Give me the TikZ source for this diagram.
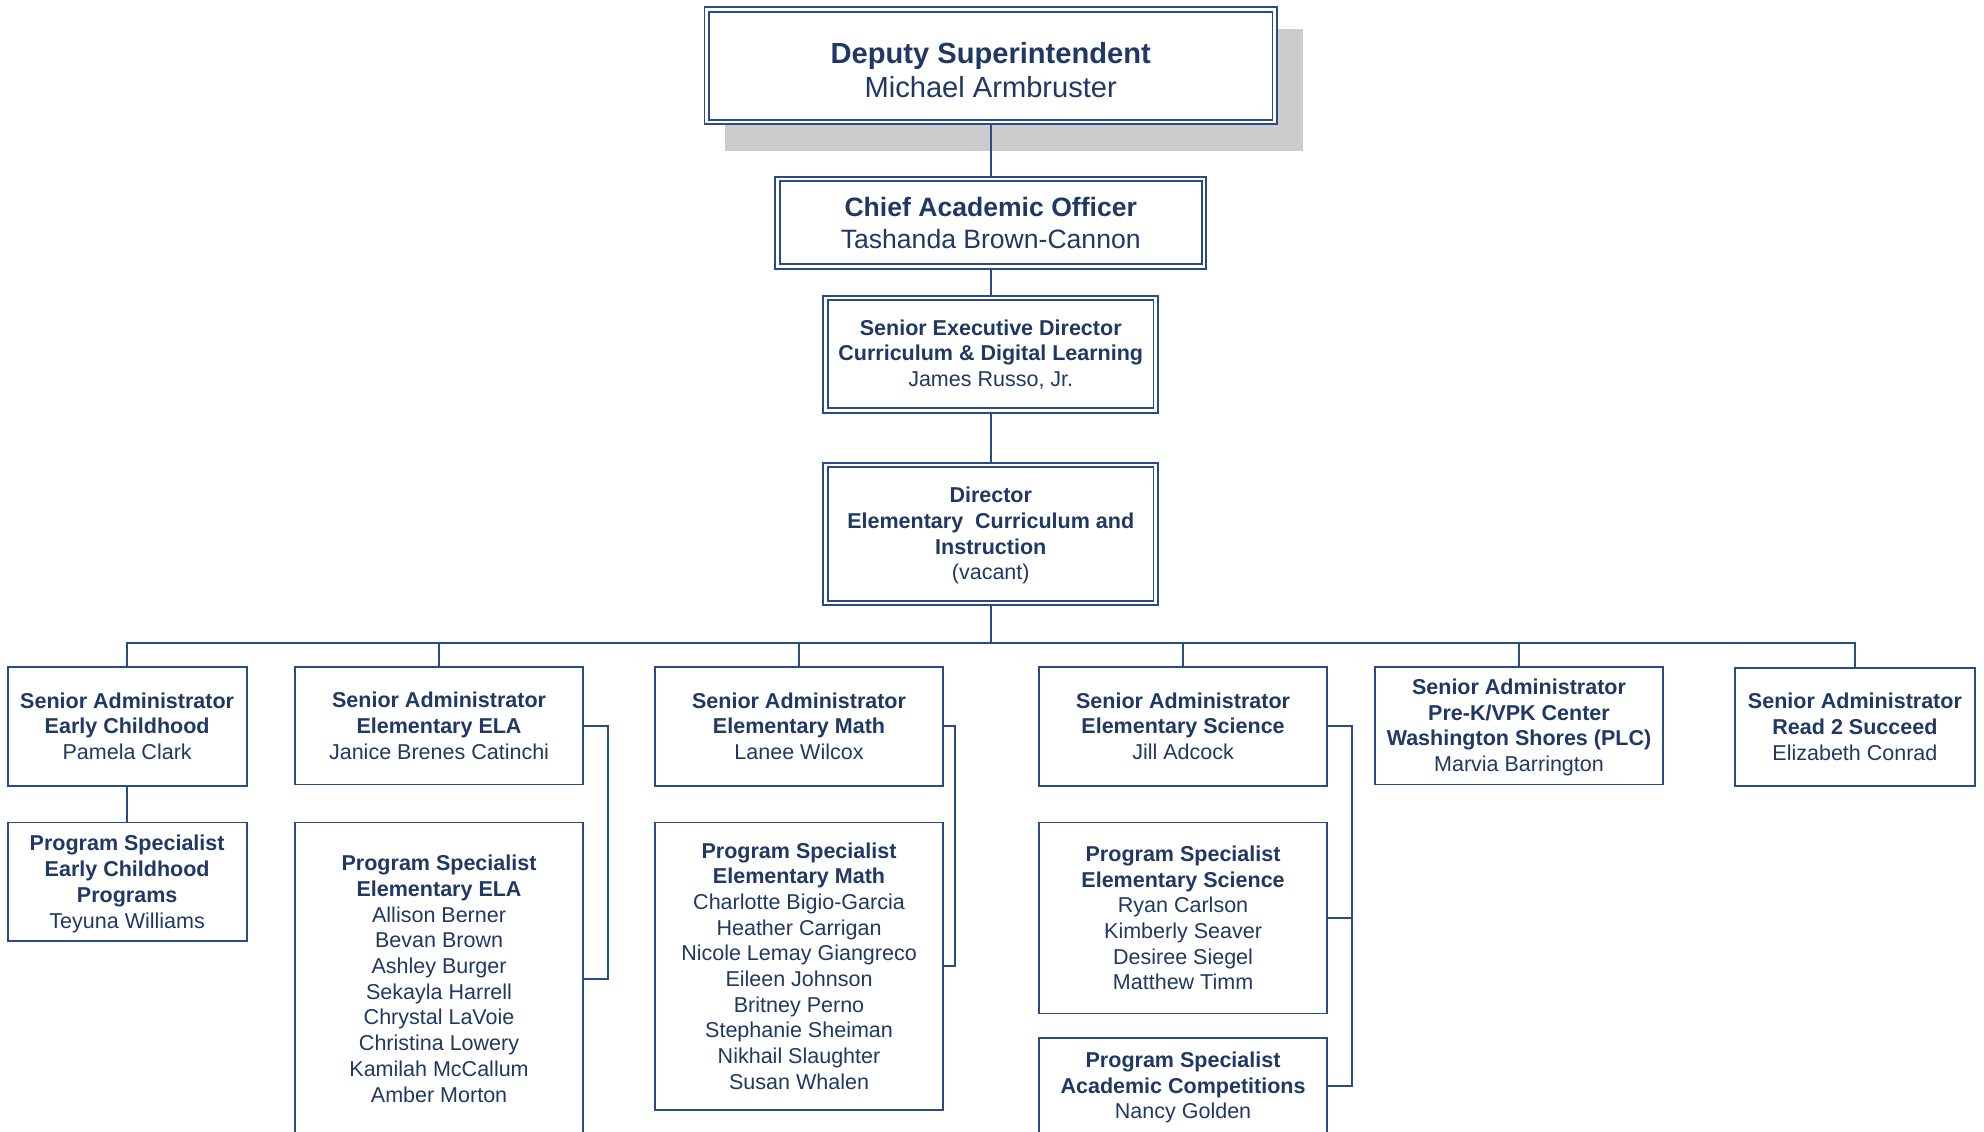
\documentclass[tikz,border=0pt]{standalone}
\usepackage{fontspec}
\setmainfont{Liberation Sans}
\usetikzlibrary{calc}
\definecolor{textc}{RGB}{31,56,100}
\definecolor{linec}{RGB}{41,76,135}
\definecolor{shadowc}{RGB}{204,204,204}
\begin{document}
\begin{tikzpicture}[x=1pt,y=-1pt,
  every node/.style={text=textc, align=center, inner sep=0pt},
  sbox/.style={draw=linec, line width=1.5pt, fill=white, font=\fontsize{17}{20.3}\selectfont},
  dbox/.style={draw=linec, line width=1.4pt, double=white, double distance=2.2pt, fill=white, outer sep=2.5pt, font=\fontsize{17}{20.3}\selectfont},
  conn/.style={draw=linec, line width=1.5pt}]
\useasboundingbox (0,0) rectangle (1568,894);
\clip (0,0) rectangle (1568,894);

% shadow of the top box
\fill[shadowc] (573,23) rectangle (1030,119);

\node[dbox, minimum width=449pt, minimum height=89pt, font=\fontsize{23}{27}\selectfont] (ds) at (783,52)
  {\rule{0pt}{23pt}{\bfseries Deputy Superintendent}\\Michael Armbruster};
\node[dbox, minimum width=337pt, minimum height=69pt, font=\fontsize{21}{25}\selectfont] (cao) at (783,176)
  {{\bfseries Chief Academic Officer}\\Tashanda Brown-Cannon};
\node[dbox, minimum width=261pt, minimum height=89pt] (sed) at (783,280)
  {{\bfseries Senior Executive Director}\\{\bfseries Curriculum \& Digital Learning}\\James Russo, Jr.};
\node[dbox, minimum width=261pt, minimum height=109pt] (dir) at (783,422)
  {\rule{0pt}{15pt}{\bfseries Director}\\{\bfseries Elementary\ \ Curriculum and}\\{\bfseries Instruction}\\(vacant)};

\node[sbox, minimum width=189pt, minimum height=94pt] (ec) at (100.5,574)
  {{\bfseries Senior Administrator}\\{\bfseries Early Childhood}\\Pamela Clark};
\node[sbox, minimum width=189pt, minimum height=94pt] (ecps) at (100.5,697)
  {\rule{0pt}{15.5pt}{\bfseries Program Specialist}\\{\bfseries Early Childhood}\\{\bfseries Programs}\\Teyuna Williams};

\node[sbox, minimum width=228pt, minimum height=93pt] (ela) at (347,573.5)
  {{\bfseries Senior Administrator}\\{\bfseries Elementary ELA}\\Janice Brenes Catinchi};
\node[sbox, minimum width=228pt, minimum height=247pt] (elaps) at (347,773.5)
  {{\bfseries Program Specialist}\\{\bfseries Elementary ELA}\\Allison Berner\\Bevan Brown\\Ashley Burger\\Sekayla Harrell\\Chrystal LaVoie\\Christina Lowery\\Kamilah McCallum\\Amber Morton};

\node[sbox, minimum width=227pt, minimum height=94pt] (math) at (631.5,574)
  {{\bfseries Senior Administrator}\\{\bfseries Elementary Math}\\Lanee Wilcox};
\node[sbox, minimum width=227pt, minimum height=227pt] (mathps) at (631.5,763.5)
  {{\bfseries Program Specialist}\\{\bfseries Elementary Math}\\Charlotte Bigio-Garcia\\Heather Carrigan\\Nicole Lemay Giangreco\\Eileen Johnson\\Britney Perno\\Stephanie Sheiman\\Nikhail Slaughter\\Susan Whalen};

\node[sbox, minimum width=228pt, minimum height=94pt] (sci) at (935,574)
  {{\bfseries Senior Administrator}\\{\bfseries Elementary Science}\\Jill Adcock};
\node[sbox, minimum width=228pt, minimum height=151pt] (scips) at (935,725.5)
  {{\bfseries Program Specialist}\\{\bfseries Elementary Science}\\Ryan Carlson\\Kimberly Seaver\\Desiree Siegel\\Matthew Timm};
\node[sbox, minimum width=228pt, minimum height=76pt] (ac) at (935,858)
  {\rule{0pt}{15.5pt}{\bfseries Program Specialist}\\{\bfseries Academic Competitions}\\Nancy Golden};

\node[sbox, minimum width=227pt, minimum height=93pt] (prek) at (1200.5,573.5)
  {\rule{0pt}{15pt}{\bfseries Senior Administrator}\\{\bfseries Pre-K/VPK Center}\\{\bfseries Washington Shores (PLC)}\\Marvia Barrington};
\node[sbox, minimum width=190pt, minimum height=93pt] (read) at (1466,574.5)
  {{\bfseries Senior Administrator}\\{\bfseries Read 2 Succeed}\\Elizabeth Conrad};

% connectors
\coordinate (bus) at (783,508);
\draw[conn] (ds.south) -- (cao.north);
\draw[conn] (cao.south) -- (sed.north);
\draw[conn] (sed.south) -- (dir.north);
\draw[conn] (dir.south) -- (bus);
\draw[conn] (ec.north) -- (ec.north |- bus) -- (read.north |- bus) -- (read.north);
\draw[conn] (ela.north) -- (ela.north |- bus);
\draw[conn] (math.north) -- (math.north |- bus);
\draw[conn] (sci.north) -- (sci.north |- bus);
\draw[conn] (prek.north) -- (prek.north |- bus);
\draw[conn] (ec.south) -- (ecps.north);
\draw[conn] (ela.east) -- ++(19,0) |- (elaps.east);
\draw[conn] (math.east) -- ++(9,0) |- (mathps.east);
\coordinate (sciv) at ($(sci.east)+(19,0)$);
\draw[conn] (sci.east) -- (sciv) |- (ac.east);
\draw[conn] (scips.east) -- (scips.east -| sciv);
\end{tikzpicture}
\end{document}
